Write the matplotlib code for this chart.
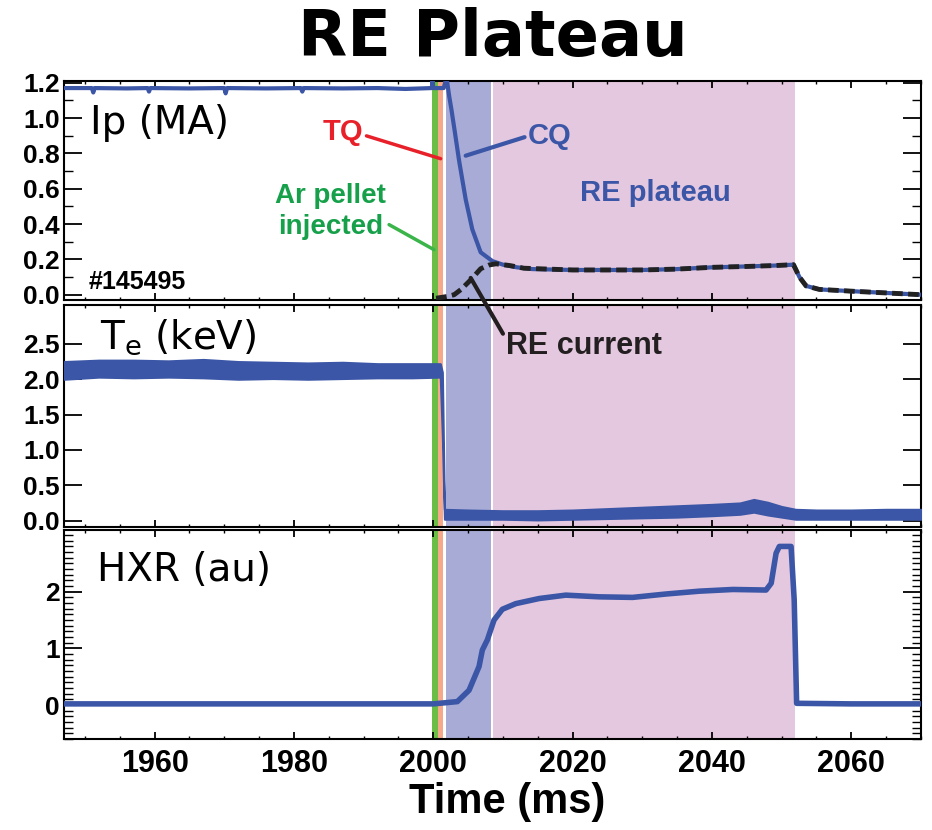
import matplotlib
matplotlib.use("Agg")
import matplotlib.pyplot as plt
from matplotlib.ticker import MultipleLocator, FixedLocator

# ---- data ----
# plasma current Ip (MA)
ip_t = [1947.0, 1951.0, 1951.2, 1951.4, 1956.0, 1959.0, 1959.2, 1959.4, 1965.0, 1970.0,
        1970.2, 1970.4, 1976.0, 1981.0, 1981.2, 1981.4, 1987.0, 1992.0, 1996.0, 1999.8,
        1999.9, 2000.0, 2001.5, 2001.9, 2002.3, 2002.6, 2003.1, 2003.7, 2004.65, 2005.6,
        2006.8, 2008.5, 2010.0, 2012.0, 2014.2, 2020.0, 2025.0, 2030.0, 2035.0, 2040.0,
        2045.0, 2049.0, 2051.7, 2052.55, 2053.5, 2055.4, 2060.0, 2065.0, 2070.0]
ip = [1.17, 1.17, 1.145, 1.17, 1.168, 1.17, 1.15, 1.17, 1.168, 1.17,
      1.14, 1.17, 1.168, 1.17, 1.15, 1.17, 1.168, 1.17, 1.165, 1.17,
      1.23, 1.17, 1.17, 1.23, 1.12, 1.05, 0.92, 0.76, 0.54, 0.37,
      0.24, 0.19, 0.17, 0.155, 0.145, 0.14, 0.14, 0.14, 0.145, 0.155,
      0.16, 0.165, 0.17, 0.10, 0.05, 0.03, 0.02, 0.01, 0.0]

# runaway electron current (MA)
re_t = [2000.4, 2002.0, 2003.0, 2004.0, 2005.4, 2006.8, 2008.0, 2009.0, 2011.0, 2013.0,
        2020.0, 2025.0, 2030.0, 2035.0, 2040.0, 2045.0, 2049.0, 2051.7, 2052.55, 2053.5,
        2055.4, 2060.0, 2065.0, 2070.0]
re_cur = [-0.02, -0.01, 0.0, 0.03, 0.085, 0.147, 0.168, 0.175, 0.165, 0.15,
          0.14, 0.14, 0.14, 0.145, 0.155, 0.16, 0.165, 0.17, 0.10, 0.05,
          0.03, 0.02, 0.01, 0.0]

# electron temperature band (keV)
te_t = [1947.0, 1952.0, 1957.0, 1962.0, 1967.0, 1972.0, 1977.0, 1982.0, 1987.0, 1992.0,
        1997.0, 2001.0, 2001.3, 2001.6, 2005.0, 2010.0, 2015.0, 2020.0, 2025.0, 2030.0,
        2035.0, 2040.0, 2044.0, 2046.0, 2048.0, 2050.0, 2052.0, 2055.0, 2060.0, 2065.0, 2070.0]
te_lo = [2.00, 2.03, 2.02, 2.03, 2.02, 2.00, 2.01, 2.00, 2.01, 2.02,
         2.02, 2.03, 1.20, 0.02, 0.02, 0.02, 0.01, 0.02, 0.03, 0.04,
         0.05, 0.07, 0.09, 0.12, 0.08, 0.05, 0.02, 0.02, 0.02, 0.02, 0.02]
te_hi = [2.25, 2.27, 2.27, 2.26, 2.28, 2.25, 2.24, 2.23, 2.24, 2.22,
         2.22, 2.22, 2.10, 0.16, 0.15, 0.14, 0.14, 0.15, 0.17, 0.19,
         0.21, 0.23, 0.25, 0.30, 0.26, 0.20, 0.16, 0.15, 0.15, 0.16, 0.16]

# hard x-ray signal (au)
hxr_t = [1947.0, 1960.0, 1980.0, 2000.0, 2003.45, 2005.13, 2006.57, 2007.04, 2007.76, 2008.72,
         2009.91, 2011.84, 2015.19, 2019.02, 2023.8, 2028.6, 2033.4, 2038.2, 2043.0, 2047.76,
         2048.5, 2049.2, 2049.67, 2051.35, 2051.8, 2052.15, 2060.0, 2070.0]
hxr = [0.02, 0.02, 0.02, 0.02, 0.06, 0.26, 0.68, 0.97, 1.15, 1.50,
       1.69, 1.79, 1.88, 1.94, 1.91, 1.90, 1.96, 2.01, 2.04, 2.03,
       2.15, 2.68, 2.80, 2.80, 1.86, 0.03, 0.02, 0.02]

# phase boundaries (ms)
pellet = (1999.86, 2000.72)
tq = (2000.72, 2001.39)
cq = (2001.78, 2008.33)
plateau = (2008.62, 2051.97)

line_blue = "#3b56a6"
narrow = ["Liberation Sans", "DejaVu Sans"]

fig = plt.figure(figsize=(9.32, 8.30), dpi=100)
W, H = 932, 830


def panel(top, bottom):
    return fig.add_axes([64 / W, 1 - bottom / H, (921 - 64) / W, (bottom - top) / H])


ax1 = panel(81, 300)
ax2 = panel(305, 527)
ax3 = panel(530, 739)

for ax in (ax1, ax2, ax3):
    ax.axvspan(*pellet, color="#6abe45", lw=0, zorder=1)
    ax.axvspan(*tq, color="#f6a98a", lw=0, zorder=1)
    ax.axvspan(*cq, color="#a8abd6", lw=0, zorder=1)
    ax.axvspan(*plateau, color="#e4c8df", lw=0, zorder=1)
    ax.set_xlim(1947.0, 2070.0)
    ax.xaxis.set_major_locator(MultipleLocator(20))
    ax.xaxis.set_minor_locator(MultipleLocator(5))
    for s in ax.spines.values():
        s.set_linewidth(1.5)
    ax.tick_params(axis="x", which="major", direction="in", length=5, width=1.3,
                   top=True, labelbottom=False, pad=7)
    ax.tick_params(axis="x", which="minor", direction="in", length=2.5, width=1.0, top=True)
    ax.tick_params(axis="y", which="major", direction="in", length=13, width=1.3,
                   right=True, pad=3)
    ax.tick_params(axis="y", which="minor", direction="in", length=6.5, width=1.0, right=True)

# Ip panel
ax1.plot(ip_t, ip, color=line_blue, lw=3, zorder=3)
ax1.plot(re_t, re_cur, color="#222222", lw=3.5, ls=(0, (2.2, 1.1)), zorder=4)
ax1.set_ylim(-0.03, 1.21)
ax1.yaxis.set_major_locator(MultipleLocator(0.2))
ax1.yaxis.set_minor_locator(MultipleLocator(0.1))
ax1.yaxis.set_major_formatter(lambda v, p: f"{v:.1f}")

# Te panel
ax2.fill_between(te_t, te_lo, te_hi, color=line_blue, lw=1.5, edgecolor=line_blue, zorder=3)
ax2.set_ylim(-0.09, 3.05)
ax2.set_yticks([0.0, 0.5, 1.0, 1.5, 2.0, 2.5])
ax2.yaxis.set_major_formatter(lambda v, p: f"{v:.1f}")

# HXR panel
ax3.plot(hxr_t, hxr, color=line_blue, lw=4, zorder=3)
ax3.set_ylim(-0.6, 3.09)
ax3.yaxis.set_major_locator(FixedLocator([0, 1, 2]))
ax3.yaxis.set_minor_locator(MultipleLocator(0.1))
ax3.tick_params(axis="x", which="major", labelbottom=True)

for ax in (ax1, ax2, ax3):
    for lab in ax.get_yticklabels():
        lab.set_family(narrow)
        lab.set_fontweight("bold")
        lab.set_fontsize(19)
for lab in ax3.get_xticklabels():
    lab.set_family(narrow)
    lab.set_fontweight("bold")
    lab.set_fontsize(22)

# panel labels
ax1.text(0.03, 0.81, "Ip (MA)", transform=ax1.transAxes, fontsize=28, va="center")
ax2.text(0.042, 0.857, r"T$_\mathregular{e}$ (keV)", transform=ax2.transAxes, fontsize=28, va="center")
ax3.text(0.038, 0.81, "HXR (au)", transform=ax3.transAxes, fontsize=28, va="center")
ax1.text(1950.5, 0.074, "#145495", fontsize=18, fontweight="bold", family=narrow, va="center")

# annotations
ax1.annotate("TQ", xy=(2001.06, 0.77), xytext=(1987.1, 0.92), color="#e8202a",
             fontsize=21, fontweight="bold", family=narrow, ha="center", va="center",
             arrowprops=dict(arrowstyle="-", color="#e8202a", lw=2.5, shrinkA=0, shrinkB=0,
                             relpos=(1.0, 0.4)))
ax1.annotate("Ar pellet\ninjected", xy=(2000.1, 0.255), xytext=(1985.3, 0.47), color="#16a04a",
             fontsize=20, fontweight="bold", family=narrow, ha="center", va="center",
             linespacing=1.25,
             arrowprops=dict(arrowstyle="-", color="#3bb54a", lw=2.5, shrinkA=0, shrinkB=0,
                             relpos=(1.0, 0.3)))
ax1.annotate("CQ", xy=(2004.65, 0.787), xytext=(2013.5, 0.897), color=line_blue,
             fontsize=21, fontweight="bold", family=narrow, ha="left", va="center",
             arrowprops=dict(arrowstyle="-", color=line_blue, lw=3, shrinkA=0, shrinkB=0,
                             relpos=(0.0, 0.5)))
ax1.text(2031.9, 0.577, "RE plateau", color=line_blue, fontsize=21, fontweight="bold",
         family=narrow, ha="center", va="center")
ax2.annotate("RE current", xy=(2005.37, 0.095), xycoords=ax1.transData,
             xytext=(2010.4, 2.47), textcoords="data", color="#231f20",
             fontsize=22, fontweight="bold", family=narrow, ha="left", va="center",
             annotation_clip=False,
             arrowprops=dict(arrowstyle="-", color="#231f20", lw=3, shrinkA=0, shrinkB=0,
                             relpos=(0.0, 0.75)))

fig.text(493 / W, 1 - 38 / H, "RE Plateau", fontsize=46, fontweight="bold",
         ha="center", va="center")
fig.text(507 / W, 1 - 802 / H, "Time (ms)", fontsize=30, fontweight="bold",
         family=narrow, ha="center", va="center")

fig.savefig("out.png", dpi=100)
